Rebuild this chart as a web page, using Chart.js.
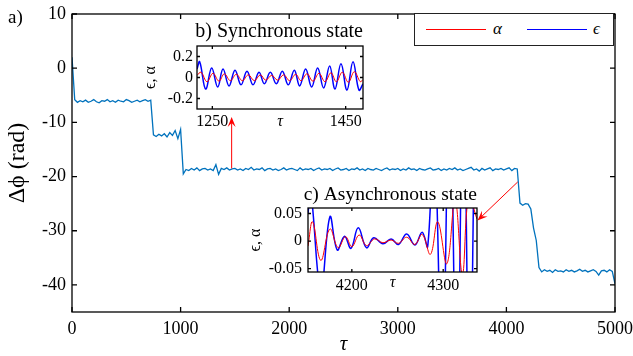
<!DOCTYPE html>
<html>
<head>
<meta charset="utf-8">
<script src="https://cdn.jsdelivr.net/npm/chart.js@4"></script>
<style>
  html, body { margin: 0; padding: 0; background: #fff; }
  #wrap { position: relative; width: 633px; height: 356px; font-family: 'Liberation Serif', 'Times New Roman', serif; }
  canvas { position: absolute; }
  #main { left: 0; top: 0; }
  #sync { left: 138px; top: 16px; }
  #async { left: 240px; top: 178px; }
  #panel { position: absolute; left: 8px; top: 7px; font-size: 19px; line-height: 1; }
  #legend { position: absolute; left: 414px; top: 13px; width: 200px; height: 33px; box-sizing: border-box;
            border: 1px solid #222; background: #fff; }
  #legend .swatch { position: absolute; top: 15px; width: 60px; height: 1px; }
  #legend .lbl { position: absolute; top: 6px; font-size: 17px; font-style: italic; line-height: 1; }
</style>
</head>
<body>
<div id="wrap">
  <canvas id="main" width="633" height="356"></canvas>
  <canvas id="sync" width="230" height="122"></canvas>
  <canvas id="async" width="242" height="115"></canvas>
  <div id="panel">a)</div>
  <div id="legend">
    <span class="swatch" style="left:11px;background:#f00"></span><span class="lbl" style="left:78px">α</span>
    <span class="swatch" style="left:112px;background:#00f"></span><span class="lbl" style="left:178px">ϵ</span>
  </div>
</div>
<script>
// main trace: phase difference vs time
const mainTau = [
  0, 25, 50, 75, 100, 125, 150, 175, 200, 225,
  250, 275, 300, 325, 350, 375, 400, 425, 450, 475,
  500, 525, 550, 575, 600, 625, 650, 675, 700, 725,
  750, 775, 800, 825, 850, 875, 900, 925, 950, 975,
  1000, 1025, 1050, 1075, 1100, 1125, 1150, 1175, 1200, 1225,
  1250, 1275, 1300, 1325, 1350, 1375, 1400, 1425, 1450, 1475,
  1500, 1525, 1550, 1575, 1600, 1625, 1650, 1675, 1700, 1725,
  1750, 1775, 1800, 1825, 1850, 1875, 1900, 1925, 1950, 1975,
  2000, 2025, 2050, 2075, 2100, 2125, 2150, 2175, 2200, 2225,
  2250, 2275, 2300, 2325, 2350, 2375, 2400, 2425, 2450, 2475,
  2500, 2525, 2550, 2575, 2600, 2625, 2650, 2675, 2700, 2725,
  2750, 2775, 2800, 2825, 2850, 2875, 2900, 2925, 2950, 2975,
  3000, 3025, 3050, 3075, 3100, 3125, 3150, 3175, 3200, 3225,
  3250, 3275, 3300, 3325, 3350, 3375, 3400, 3425, 3450, 3475,
  3500, 3525, 3550, 3575, 3600, 3625, 3650, 3675, 3700, 3725,
  3750, 3775, 3800, 3825, 3850, 3875, 3900, 3925, 3950, 3975,
  4000, 4025, 4050, 4075, 4100, 4125, 4150, 4175, 4200, 4225,
  4250, 4275, 4300, 4325, 4350, 4375, 4400, 4425, 4450, 4475,
  4500, 4525, 4550, 4575, 4600, 4625, 4650, 4675, 4700, 4725,
  4750, 4775, 4800, 4825, 4850, 4875, 4900, 4925, 4950, 4975,
  5000
];
const mainPhase = [
  2.0, -5.8, -6.3, -6.0, -6.2, -5.9, -6.3, -6.1, -5.8, -6.2,
  -6.4, -6.0, -6.1, -5.8, -6.2, -6.0, -6.3, -5.9, -6.1, -6.2,
  -5.8, -6.0, -6.3, -6.1, -5.9, -6.2, -6.0, -5.8, -6.1, -5.9,
  -12.3, -12.6, -12.2, -12.5, -12.1, -12.7, -11.9, -12.4, -11.5, -13.0,
  -11.3, -19.5, -18.7, -18.9, -18.5, -18.8, -18.4, -18.9, -18.6, -18.5,
  -18.8, -18.6, -18.9, -17.8, -19.6, -18.5, -18.7, -18.4, -18.8, -18.6,
  -18.5, -18.8, -18.6, -18.9, -18.5, -18.7, -18.3, -18.8, -18.6, -18.7,
  -18.4, -18.9, -18.6, -18.5, -18.8, -18.6, -18.9, -18.7, -18.4, -18.8,
  -18.6, -18.5, -18.7, -18.9, -18.4, -18.8, -18.6, -18.7, -18.5, -18.9,
  -18.6, -18.4, -18.8, -18.6, -18.7, -18.5, -18.9, -18.6, -18.4, -18.8,
  -18.7, -18.5, -18.9, -18.6, -18.7, -18.4, -18.8, -18.6, -18.9, -18.5,
  -18.7, -18.8, -18.5, -18.7, -18.9, -18.6, -18.4, -18.8, -18.6, -18.7,
  -18.5, -18.9, -18.6, -18.8, -18.4, -18.7, -18.6, -18.9, -18.5, -18.7,
  -18.8, -18.6, -18.4, -18.8, -18.7, -18.5, -18.9, -18.6, -18.8, -18.5,
  -18.7, -18.4, -18.8, -18.6, -18.9, -18.7, -18.5, -18.3, -18.8, -18.6,
  -19.0, -18.5, -18.8, -18.6, -18.4, -18.9, -18.6, -18.7, -18.5, -18.8,
  -18.6, -18.4, -18.9, -18.5, -18.6, -24.9, -25.3, -25.0, -25.1, -26.0,
  -29.5, -31.8, -36.8, -37.6, -37.2, -37.5, -37.3, -37.7, -37.2, -37.5,
  -37.4, -37.6, -37.2, -37.5, -37.3, -37.6, -37.4, -37.1, -37.5, -37.3,
  -37.6, -37.4, -37.2, -37.5, -38.2, -37.4, -37.3, -37.6, -37.2, -37.5,
  -39.8
];
const mainXTicks = [0, 1000, 2000, 3000, 4000, 5000];
const mainYTicks = [-40, -30, -20, -10, 0, 10];

// inset b) synchronous state
const syncEpsTau = [1227, 1231, 1240, 1249, 1258, 1266, 1275, 1284, 1293, 1302,
  1311, 1320, 1328, 1337, 1346, 1355, 1364, 1373, 1381, 1390,
  1399, 1408, 1417, 1426, 1434, 1443, 1452, 1461, 1470, 1476];
const syncEps = [0.08, 0.15, -0.11, 0.09, -0.09, 0.08, -0.08, 0.07, -0.07, 0.06,
  -0.07, 0.05, -0.06, 0.05, -0.06, 0.06, -0.07, 0.07, -0.08, 0.08,
  -0.09, 0.09, -0.10, 0.11, -0.11, 0.13, -0.12, 0.15, -0.12, -0.06];
const syncAlphaTau = [1227, 1233, 1242, 1251, 1260, 1268, 1277, 1286, 1295, 1304,
  1313, 1322, 1330, 1339, 1348, 1357, 1366, 1375, 1383, 1392,
  1401, 1410, 1419, 1428, 1436, 1445, 1454, 1463, 1472, 1476];
const syncAlpha = [0.02, 0.05, -0.04, 0.04, -0.035, 0.035, -0.03, 0.03, -0.03, 0.025,
  -0.03, 0.025, -0.025, 0.02, -0.025, 0.025, -0.03, 0.03, -0.03, 0.035,
  -0.035, 0.04, -0.04, 0.045, -0.04, 0.05, -0.045, 0.055, -0.04, -0.02];
const syncXTicks = [1250, 1450];
const syncYTicks = [-0.2, 0, 0.2];

// inset c) asynchronous state
const asyncEpsTau = [4152, 4155, 4166, 4176, 4184, 4192, 4199, 4207, 4216, 4224,
  4234, 4243, 4251, 4260, 4269, 4277, 4283, 4290, 4299, 4307,
  4315, 4322, 4329, 4335, 4337];
const asyncEps = [0.05, 0.09, -0.09, 0.044, -0.016, 0.009, -0.013, 0.024, -0.012, 0.006,
  -0.005, 0.004, -0.006, 0.013, -0.007, 0.016, -0.01, 0.2, -0.25, 0.3,
  -0.3, 0.3, -0.3, 0.25, 0.1];
const asyncAlphaTau = [4152, 4157, 4166, 4176, 4185, 4193, 4200, 4208, 4216, 4225,
  4234, 4243, 4251, 4260, 4269, 4277, 4286, 4294, 4304, 4313,
  4321, 4328, 4337];
const asyncAlpha = [-0.009, 0.035, -0.035, 0.022, -0.012, 0.008, -0.01, 0.011, -0.008, 0.004,
  -0.003, 0.002, -0.004, 0.007, -0.006, 0.012, -0.024, 0.035, -0.041, 0.075,
  -0.06, 0.08, 0.04];
const asyncXTicks = [4200, 4300];
const asyncYTicks = [-0.05, 0, 0.05];

// arrows pointing from the main trace to the insets: [tau0, phase0, tau1, phase1]
const pointers = [[1470, -18.5, 1470, -9.0], [4104, -21.0, 3734, -28.1]];

const serif = "'Liberation Serif', 'Times New Roman', serif";
Chart.defaults.font.family = serif;
Chart.defaults.color = '#000';

function pairs(xs, ys) {
  return xs.map((x, i) => ({x: x, y: ys[i]}));
}

function font(size, extra) {
  return Object.assign({family: serif, size: size, weight: 'normal'}, extra || {});
}

// box around the plot area with ticks pointing inward (matlab style)
const frameTicks = {
  id: 'frameTicks',
  beforeDatasetsDraw(chart, args, opts) {
    const {ctx, chartArea: a} = chart;
    if (!opts.fill) return;
    ctx.save();
    ctx.fillStyle = '#fff';
    ctx.fillRect(a.left, a.top, a.width, a.height);
    ctx.restore();
  },
  afterDatasetsDraw(chart, args, opts) {
    const {ctx, chartArea: a, scales} = chart;
    const x = scales.x, y = scales.y;
    ctx.save();
    ctx.strokeStyle = '#000';
    ctx.lineWidth = opts.width;
    ctx.beginPath();
    x.ticks.forEach(t => {
      const p = x.getPixelForValue(t.value);
      ctx.moveTo(p, a.bottom); ctx.lineTo(p, a.bottom - opts.len);
      ctx.moveTo(p, a.top); ctx.lineTo(p, a.top + opts.len);
    });
    y.ticks.forEach(t => {
      const p = y.getPixelForValue(t.value);
      ctx.moveTo(a.left, p); ctx.lineTo(a.left + opts.len, p);
      ctx.moveTo(a.right, p); ctx.lineTo(a.right - opts.len, p);
    });
    ctx.stroke();
    ctx.strokeRect(a.left, a.top, a.width, a.height);
    ctx.restore();
  }
};

// red arrows with notched heads
const arrows = {
  id: 'arrows',
  afterDatasetsDraw(chart, args, opts) {
    const {ctx, scales: {x, y}} = chart;
    ctx.save();
    ctx.strokeStyle = '#f00';
    ctx.fillStyle = '#f00';
    ctx.lineWidth = 1;
    opts.items.forEach(([t0, v0, t1, v1]) => {
      const x0 = x.getPixelForValue(t0), y0 = y.getPixelForValue(v0);
      const x1 = x.getPixelForValue(t1), y1 = y.getPixelForValue(v1);
      const ang = Math.atan2(y1 - y0, x1 - x0);
      const c = Math.cos(ang), s = Math.sin(ang);
      const len = 10, half = 4, notch = 6;
      ctx.beginPath();
      ctx.moveTo(x0, y0);
      ctx.lineTo(x1 - notch * c, y1 - notch * s);
      ctx.stroke();
      ctx.beginPath();
      ctx.moveTo(x1, y1);
      ctx.lineTo(x1 - len * c + half * s, y1 - len * s - half * c);
      ctx.lineTo(x1 - notch * c, y1 - notch * s);
      ctx.lineTo(x1 - len * c - half * s, y1 - len * s + half * c);
      ctx.closePath();
      ctx.fill();
    });
    ctx.restore();
  }
};

function fixedTicks(list) {
  return s => { s.ticks = list.map(v => ({value: v})); };
}

// main panel a)
new Chart(document.getElementById('main'), {
  type: 'line',
  data: {
    datasets: [{
      data: pairs(mainTau, mainPhase),
      borderColor: '#0072BD',
      borderWidth: 1.3,
      pointRadius: 0,
      tension: 0
    }]
  },
  options: {
    responsive: false,
    animation: false,
    events: [],
    layout: {padding: {top: 14, right: 18, left: 0, bottom: 0}},
    plugins: {
      legend: {display: false},
      tooltip: {enabled: false},
      frameTicks: {len: 5, width: 1.3, fill: false},
      arrows: {items: pointers}
    },
    scales: {
      x: {
        type: 'linear', min: 0, max: 5000,
        afterBuildTicks: fixedTicks(mainXTicks),
        afterFit: s => { s.height = 44; s.paddingLeft = 0; s.paddingRight = 0; },
        grid: {display: false, drawTicks: false},
        border: {display: false},
        ticks: {padding: 6, font: font(18), maxRotation: 0, autoSkip: false, callback: v => String(v)},
        title: {display: true, text: 'τ', font: font(21, {style: 'italic', lineHeight: 1}), padding: {top: 0, bottom: 1}}
      },
      y: {
        type: 'linear', min: -45, max: 10,
        afterBuildTicks: fixedTicks(mainYTicks),
        afterFit: s => { s.width = 72; s.paddingTop = 0; s.paddingBottom = 0; },
        grid: {display: false, drawTicks: false},
        border: {display: false},
        ticks: {padding: 6, font: font(18), callback: v => String(v)},
        title: {display: true, text: 'Δϕ (rad)', font: font(24, {lineHeight: 1}), padding: {top: 6, bottom: 0}}
      }
    }
  },
  plugins: [frameTicks, arrows]
});

// shared setup for the two small panels
function inset(id, o) {
  return new Chart(document.getElementById(id), {
    type: 'line',
    data: {
      datasets: [{
        data: pairs(o.alphaTau, o.alpha),
        borderColor: '#ff0000',
        borderWidth: 1,
        pointRadius: 0,
        tension: 0.4
      }, {
        data: pairs(o.epsTau, o.eps),
        borderColor: '#0000ff',
        borderWidth: 1.5,
        pointRadius: 0,
        tension: 0.4
      }]
    },
    options: {
      responsive: false,
      animation: false,
      events: [],
      layout: {padding: {top: 0, right: o.padRight, left: 0, bottom: 0}},
      plugins: {
        legend: {display: false},
        tooltip: {enabled: false},
        title: {display: true, text: o.title, align: 'end', font: font(o.titleSize), padding: o.titlePad},
        frameTicks: {len: 3, width: 1.3, fill: true}
      },
      scales: {
        x: {
          type: 'linear', min: o.xMin, max: o.xMax,
          afterBuildTicks: fixedTicks(o.xTicks),
          afterFit: s => { s.height = o.xHeight; s.paddingLeft = 0; s.paddingRight = 0; },
          grid: {display: false, drawTicks: false},
          border: {display: false},
          ticks: {padding: o.xTickPad, font: font(16), maxRotation: 0, autoSkip: false, callback: v => String(v)},
          title: {display: true, text: 'τ', font: font(16, {style: 'italic'}), padding: {top: 0, bottom: o.tauPad}}
        },
        y: {
          type: 'linear', min: o.yMin, max: o.yMax,
          afterBuildTicks: fixedTicks(o.yTicks),
          afterFit: s => { s.width = o.yWidth; s.paddingTop = 0; s.paddingBottom = 0; },
          grid: {display: false, drawTicks: false},
          border: {display: false},
          ticks: {padding: o.yTickPad, font: font(16), callback: v => String(v)},
          title: {display: true, text: 'ϵ, α', font: font(16), padding: {top: o.yTitlePad, bottom: 0}}
        }
      }
    },
    plugins: [frameTicks]
  });
}

inset('sync', {
  title: 'b) Synchronous state', titleSize: 20, titlePad: {top: 4, bottom: 2},
  alphaTau: syncAlphaTau, alpha: syncAlpha, epsTau: syncEpsTau, eps: syncEps,
  xMin: 1227, xMax: 1476, xTicks: syncXTicks, yMin: -0.3, yMax: 0.3, yTicks: syncYTicks,
  padRight: 5, xHeight: 29, yWidth: 59, xTickPad: 3.4, tauPad: 6.4, yTickPad: 4, yTitlePad: 3.4
});

inset('async', {
  title: 'c) Asynchronous state', titleSize: 19.5, titlePad: {top: 5.3, bottom: 1.3},
  alphaTau: asyncAlphaTau, alpha: asyncAlpha, epsTau: asyncEpsTau, eps: asyncEps,
  xMin: 4152, xMax: 4337, xTicks: asyncXTicks, yMin: -0.056, yMax: 0.06, yTicks: asyncYTicks,
  padRight: 5, xHeight: 21, yWidth: 68, xTickPad: 4.4, tauPad: 0.4, yTickPad: 6, yTitlePad: 6.4
});
</script>
</body>
</html>
